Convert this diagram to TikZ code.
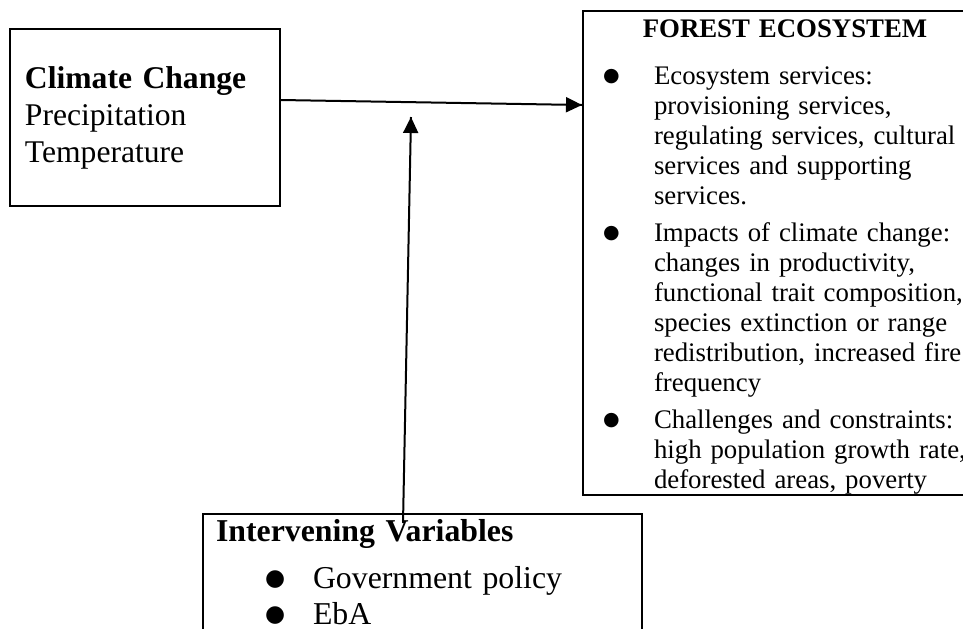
\documentclass[tikz,border=0pt]{standalone}
\usepackage{fontspec}
\setmainfont{Liberation Serif}
\newfontfamily\dotfont{DejaVu Sans}
\usepackage{tikz}
\usetikzlibrary{arrows.meta}
\usetikzlibrary{decorations.markings}
\tikzset{->/.style = {decoration={markings,
                                  mark=at position 1 with {\arrow{Triangle[length=8pt, width=7.5pt]}}},
                      postaction={decorate}}}
\tikzset{box/.style = {draw, line width = 1pt, inner sep = 0}}
\newcommand{\bul}[3]{\makebox[#1][l]{\hspace*{#3}\raisebox{1.4pt}{\dotfont\fontsize{#2}{#2}\selectfont ●}}}
\newcommand{\just}[1]{\makebox[154pt][s]{#1}}
\newcommand{\ind}{\hspace*{23pt}}
\setlength{\parindent}{0pt}

\begin{document}
\begin{tikzpicture}[x = 0.5pt, y = -0.5pt, line width = 1pt]
    \useasboundingbox (0, 0) rectangle (963, 628);
    \clip (0, 0) rectangle (963, 628);

    \node [box, minimum width = 135pt, minimum height = 88.5pt, text width = 120pt, align = left,
           font = \fontsize{15.8pt}{18.5pt}\selectfont] (climate) at (145, 117.5)
          {\textbf{Climate Change}\\ Precipitation\\ Temperature};

    \node [box, anchor = north west, text width = 177pt, inner xsep = 12.5pt, align = left,
           font = \fontsize{13.4pt}{15pt}\selectfont] (forest) at (582, 10)
          {\makebox[177pt]{\rule{0pt}{13pt}\textbf{FOREST ECOSYSTEM}}\par
           \vspace{8.5pt}
           \bul{23pt}{9.5pt}{-2.5pt}Ecosystem services:\\ \ind provisioning services,\\ \ind regulating services, cultural\\
           \ind services and supporting\\ \ind services.\par
           \vspace{3.5pt}
           \bul{23pt}{9.5pt}{-2.5pt}\just{Impacts of climate change:}\\ \ind\just{changes in productivity,}\\
           \ind\just{functional trait composition,}\\ \ind\just{species extinction or range}\\
           \ind\just{redistribution, increased fire}\\ \ind frequency\par
           \vspace{3.5pt}
           \bul{23pt}{9.5pt}{-2.5pt}\just{Challenges and constraints:}\\ \ind\just{high population growth rate,}\\
           \ind deforested areas, poverty\rule[-3.5pt]{0pt}{3.5pt}};

    \node [box, anchor = north west, text width = 206.5pt, inner xsep = 6.5pt, align = left,
           font = \fontsize{15.9pt}{18pt}\selectfont] (interv) at (202, 513)
          {\rule{0pt}{13.5pt}\textbf{Intervening Variables}\par
           \vspace{5.5pt}
           \hspace*{24.5pt}\bul{24pt}{11.5pt}{0pt}Government policy\par
           \hspace*{24.5pt}\bul{24pt}{11.5pt}{0pt}EbA\rule[-20pt]{0pt}{20pt}};

    \draw [->] ([yshift = -36pt] climate.north east) -- ([yshift = -47.5pt] forest.north west);

    \coordinate (tip) at (411, 117);
    \draw [->] ([xshift = 100.5pt, yshift = -5pt] interv.north west) -- (tip);
\end{tikzpicture}
\end{document}
